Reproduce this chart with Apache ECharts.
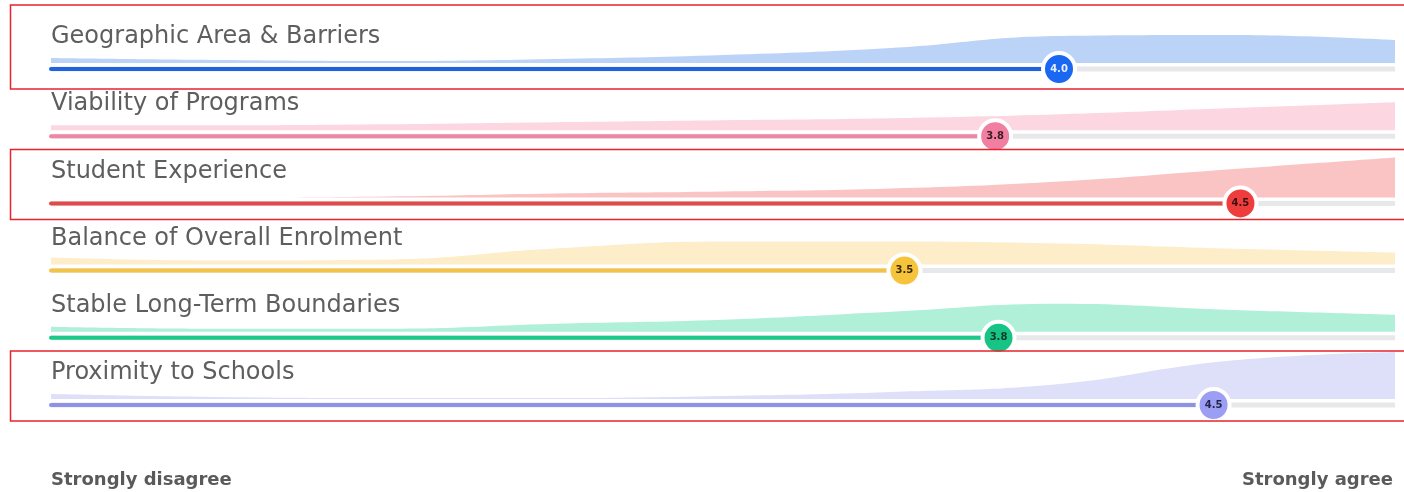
<!DOCTYPE html>
<html>
<head>
<meta charset="utf-8">
<script src="https://cdn.jsdelivr.net/npm/echarts@6/dist/echarts.min.js"></script>
<style>
html,body{margin:0;padding:0;background:#fff;}
#chart{width:1404px;height:492px;}
</style>
</head>
<body>
<div id="chart"></div>
<script>
// ---- data ----
const categories = [
  'Geographic Area & Barriers',
  'Viability of Programs',
  'Student Experience',
  'Balance of Overall Enrolment',
  'Stable Long-Term Boundaries',
  'Proximity to Schools'
];
const means = [4.0, 3.81, 4.54, 3.54, 3.82, 4.46];
const scaleLabels = ['Strongly disagree', 'Strongly agree'];
const densityX = [1, 1.5, 2, 2.5, 3, 3.5, 4, 4.5, 5];
const geographicDensity = [5, 3, 2, 4, 8, 15, 27, 28, 23];
const viabilityDensity  = [5, 5, 6, 8, 10, 12, 16, 22, 28];
const studentDensity    = [0, 0, 1, 4, 6, 9, 16, 28, 40];
const balanceDensity    = [7, 4, 5, 16, 23, 23, 21, 16, 12];
const stableDensity     = [5, 3, 3, 8, 12, 20, 28, 22, 17];
const proximityDensity  = [5, 2, 1, 1, 3, 7, 15, 38, 47];
const densities = [geographicDensity, viabilityDensity, studentDensity, balanceDensity, stableDensity, proximityDensity];
const highlightedRows = [0, 2, 5];

// ---- styles ----
const barColors   = ['#1f63e0', '#ee86a6', '#e04a48', '#f4c245', '#1cc98b', '#8e92e6'];
const areaColors  = ['#bcd3f8', '#fcd7e2', '#fac4c4', '#fdedc9', '#b0f0d9', '#dedff9'];
const badgeColors = ['#1a67f2', '#f07fa2', '#ef3d3d', '#f6c33c', '#17c486', '#9b9ef2'];
const badgeText   = ['#e8eeff', '#3a1a24', '#3a1010', '#3a2a05', '#0d3a28', '#22244a'];
const labelFont = 'DejaVu Sans';

// ---- layout ----
const firstBarY = 69, rowGap = 67.2, plotLeft = 51, plotRight = 9;
const yMin = -10, yMax = 50, barLevel = -6;

const grids = [], xAxes = [], yAxes = [], series = [], graphics = [];
categories.forEach((name, i) => {
  const barY = firstBarY + i * rowGap;
  const top = barY - (yMax - barLevel);
  grids.push({ left: plotLeft, right: plotRight, top: top, height: yMax - yMin });
  xAxes.push({ gridIndex: i, type: 'value', min: 1, max: 5, show: false });
  yAxes.push({ gridIndex: i, type: 'value', min: yMin, max: yMax, show: false });
  series.push({
    type: 'line', xAxisIndex: i, yAxisIndex: i, smooth: 0.45, symbol: 'none', silent: true,
    data: densityX.map((x, j) => [x, densities[i][j]]),
    lineStyle: { width: 0 }, areaStyle: { color: areaColors[i], opacity: 1, origin: 'auto' }, z: 1
  });
  series.push({
    type: 'line', xAxisIndex: i, yAxisIndex: i, symbol: 'none', silent: true, clip: false,
    data: [[1, barLevel], [5, barLevel]],
    lineStyle: { color: '#e7e8ea', width: 5 }, z: 2
  });
  series.push({
    type: 'line', xAxisIndex: i, yAxisIndex: i, symbol: 'none', silent: true, clip: false,
    data: [[1, barLevel], [means[i], barLevel]],
    lineStyle: { color: barColors[i], width: 4, cap: 'round' }, z: 3
  });
  series.push({
    type: 'scatter', xAxisIndex: i, yAxisIndex: i, silent: true, clip: false,
    data: [[means[i], barLevel]], symbolSize: 32,
    itemStyle: { color: badgeColors[i], borderColor: '#ffffff', borderWidth: 4, opacity: 1 },
    label: { show: true, position: 'inside', formatter: () => means[i].toFixed(1),
      fontSize: 10, fontWeight: 'bold', color: badgeText[i], fontFamily: labelFont },
    z: 4
  });
  graphics.push({
    type: 'text', left: plotLeft, top: barY - 44, silent: true,
    style: { text: name, fontSize: 24, fontFamily: labelFont, fill: '#5e5e5e' }
  });
});

highlightedRows.forEach(i => {
  const barY = firstBarY + i * rowGap;
  const y0 = i === 0 ? 5 : barY - 54;
  const y1 = i === 0 ? barY + 20 : barY + 16;
  graphics.push({
    type: 'rect', silent: true, z: 100,
    shape: { x: 10.5, y: y0, width: 1400, height: y1 - y0 },
    style: { fill: 'none', stroke: '#e8232c', lineWidth: 1.5 }
  });
});

graphics.push({
  type: 'text', left: plotLeft, top: 471, silent: true,
  style: { text: scaleLabels[0], fontSize: 18, fontWeight: 'bold', fontFamily: labelFont, fill: '#5a5a5a' }
});
graphics.push({
  type: 'text', right: plotRight + 2, top: 471, silent: true,
  style: { text: scaleLabels[1], fontSize: 18, fontWeight: 'bold', fontFamily: labelFont, fill: '#5a5a5a' }
});

const chart = echarts.init(document.getElementById('chart'), null, { renderer: 'canvas' });
chart.setOption({
  animation: false,
  backgroundColor: '#ffffff',
  grid: grids, xAxis: xAxes, yAxis: yAxes, series: series, graphic: graphics
});
</script>
</body>
</html>
